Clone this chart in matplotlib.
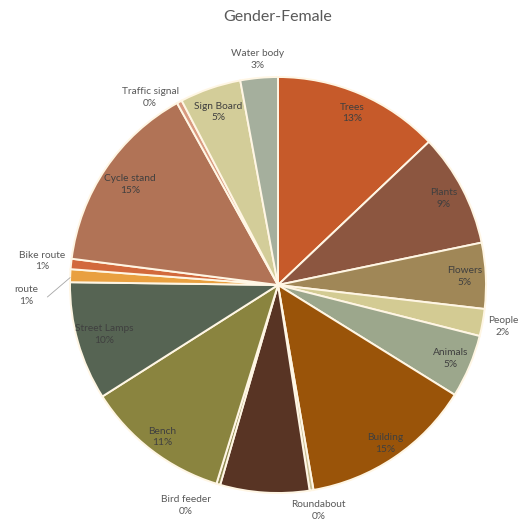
import numpy as np
import matplotlib
matplotlib.use("Agg")
import matplotlib.pyplot as plt

plt.rcParams['font.family'] = ['Lato', 'DejaVu Sans']

# slice data, clockwise from 12 o'clock
categories = ["Trees", "Plants", "Flowers", "People", "Animals", "Building",
              "Roundabout", "", "Bird feeder", "Bench", "Street Lamps",
              "route", "Bike route", "Cycle stand", "Traffic signal",
              "Sign Board", "Water body"]
shares = [12.9, 8.8, 5.1, 2.1, 4.9, 13.4, 0.3, 6.9, 0.3, 11.2, 9.2,
          1.0, 0.8, 14.9, 0.4, 4.75, 2.9]
pct_labels = ["13%", "9%", "5%", "2%", "5%", "15%", "0%", "", "0%", "11%",
              "10%", "1%", "1%", "15%", "0%", "5%", "3%"]

colors = ["#C65A2A", "#8C5640", "#A08757", "#D3CB93", "#9CA78C", "#9A5409",
          "#C9BE93", "#583424", "#8F8A52", "#8A843F", "#566453", "#E9A040",
          "#D2693C", "#B17356", "#D99A80", "#D3CD99", "#A5AF9D"]

# label placement: radius (in pie radii) and small angle nudge (deg, cw)
label_r = [0.90, 0.90, 0.90, 1.10, 0.90, 0.92, 1.10, 0.0, 1.15, 0.92, 0.87,
           1.21, 1.14, 0.86, 1.09, 0.88, 1.09]
label_nudge = {"Bird feeder": 6, "Traffic signal": -6, "route": -5,
               "Roundabout": -1}
outside = {"People", "Roundabout", "Bird feeder", "route", "Bike route",
           "Traffic signal", "Water body"}

fig = plt.figure(figsize=(5.22, 5.24), dpi=100)
R = 208
cx, cy = 278, 285
ax = fig.add_axes([(cx - R) / 522, 1 - (cy + R) / 524, 2 * R / 522, 2 * R / 524])

wedges, _ = ax.pie(shares, colors=colors, startangle=90, counterclock=False,
                   wedgeprops=dict(edgecolor="#FFF6E4", linewidth=1.4))
ax.set_xlim(-1, 1)
ax.set_ylim(-1, 1)
ax.set_aspect("equal", adjustable="datalim")
ax.axis("off")

for w, name, pct, r in zip(wedges, categories, pct_labels, label_r):
    if not name:
        continue
    mid = (w.theta1 + w.theta2) / 2 - label_nudge.get(name, 0)
    x = r * np.cos(np.radians(mid))
    y = r * np.sin(np.radians(mid))
    col = "#595959" if name in outside else "#3F3F3F"
    ax.text(x, y, f"{name}\n{pct}", ha="center", va="center", fontsize=7.3,
            color=col, linespacing=1.4)
    if name == "route":
        tm = np.radians((w.theta1 + w.theta2) / 2)
        ax.annotate("", xy=(0.99 * np.cos(tm), 0.99 * np.sin(tm)),
                    xytext=(x + 0.09, y - 0.015),
                    arrowprops=dict(arrowstyle="-", color="#A6A6A6", lw=0.6))

fig.text(278 / 522, 1 - 17 / 524, "Gender-Female", ha="center", va="center",
         fontsize=11.5, color="#595959")

fig.savefig("out.png", dpi=100)
